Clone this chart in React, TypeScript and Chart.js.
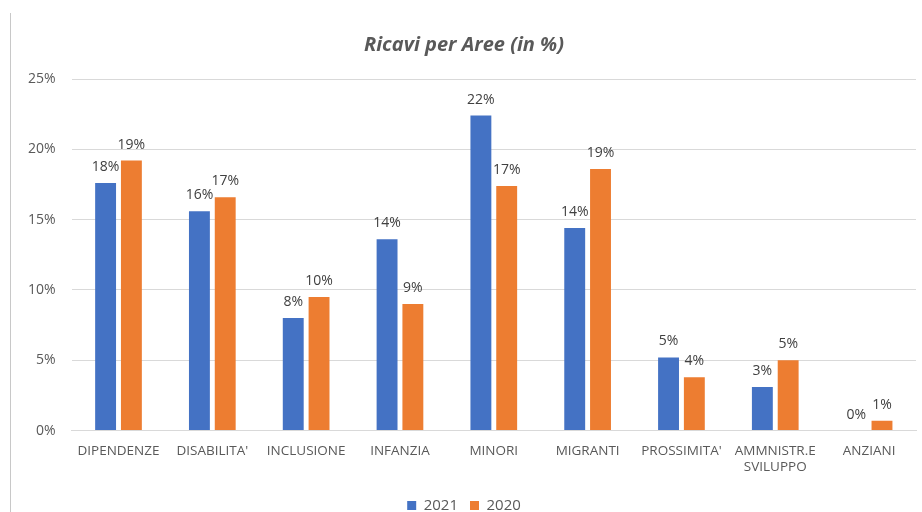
import React, { useEffect, useRef } from "react";
import { Chart, registerables } from "chart.js";

Chart.register(...registerables);

const categories: (string | string[])[] = [
  "DIPENDENZE",
  "DISABILITA'",
  "INCLUSIONE",
  "INFANZIA",
  "MINORI",
  "MIGRANTI",
  "PROSSIMITA'",
  ["AMMNISTR.E", "SVILUPPO"],
  "ANZIANI",
];
const values2021 = [17.6, 15.6, 8.0, 13.6, 22.4, 14.4, 5.2, 3.1, 0];
const values2020 = [19.2, 16.6, 9.5, 9.0, 17.4, 18.6, 3.8, 5.0, 0.7];
const yTicks = [0, 5, 10, 15, 20, 25];

const TEXT = "#595959";
const FONT = "'Open Sans', 'Noto Sans', sans-serif";

const dataLabels = {
  id: "dataLabels",
  afterDatasetsDraw(chart: any) {
    const ctx = chart.ctx;
    ctx.save();
    ctx.font = `14px ${FONT}`;
    ctx.fillStyle = "#404040";
    ctx.textAlign = "center";
    ctx.textBaseline = "bottom";
    chart.data.datasets.forEach((ds: any, i: number) => {
      const meta = chart.getDatasetMeta(i);
      meta.data.forEach((bar: any, j: number) => {
        const v = ds.data[j] as number;
        ctx.fillText(`${Math.round(v)}%`, bar.x, bar.y - 9);
      });
    });
    ctx.restore();
  },
};

export default function App() {
  const ref = useRef<HTMLCanvasElement>(null);
  useEffect(() => {
    document.body.style.margin = "0";
    const chart = new Chart(ref.current!, {
      type: "bar",
      data: {
        labels: categories,
        datasets: [
          {
            label: "2021",
            data: values2021,
            backgroundColor: "#4472C4",
            categoryPercentage: 0.55,
            barPercentage: 0.81,
          },
          {
            label: "2020",
            data: values2020,
            backgroundColor: "#ED7D31",
            categoryPercentage: 0.55,
            barPercentage: 0.81,
          },
        ],
      },
      options: {
        animation: false,
        responsive: false,
        layout: { padding: { left: 12, right: 6, top: 33, bottom: -11 } },
        plugins: {
          title: {
            display: true,
            text: "Ricavi per Aree (in %)",
            color: TEXT,
            font: { family: FONT, size: 20, weight: "bold", style: "italic" },
            padding: { top: 0, bottom: 22 },
          },
          legend: {
            position: "bottom",
            labels: {
              color: TEXT,
              font: { family: FONT, size: 15 },
              boxWidth: 9,
              boxHeight: 9,
              padding: 12,
            },
          },
          tooltip: { enabled: false },
        },
        scales: {
          x: {
            grid: { display: false },
            border: { display: true, color: "#d9d9d9" },
            afterFit: (axis: any) => {
              axis.height += 7;
            },
            ticks: {
              color: TEXT,
              font: { family: FONT, size: 13.5 },
              maxRotation: 0,
              autoSkip: false,
              padding: 4,
            },
          },
          y: {
            min: 0,
            max: 25,
            afterBuildTicks: (axis: any) => {
              axis.ticks = yTicks.map((v) => ({ value: v }));
            },
            grid: { color: "#d9d9d9", drawTicks: false },
            border: { display: false },
            ticks: {
              color: TEXT,
              font: { family: FONT, size: 14 },
              padding: 16,
              callback: (v: any) => `${v}%`,
            },
          },
        },
      },
      plugins: [dataLabels],
    });
    return () => chart.destroy();
  }, []);
  return (
    <div style={{ position: "relative", width: 922, height: 512, background: "#fff" }}>
      <div
        style={{
          position: "absolute",
          left: 10,
          top: 13,
          width: 0,
          height: 499,
          borderLeft: "1px solid #c8c8c8",
        }}
      />
      <canvas ref={ref} width={922} height={512} style={{ display: "block" }} />
    </div>
  );
}
